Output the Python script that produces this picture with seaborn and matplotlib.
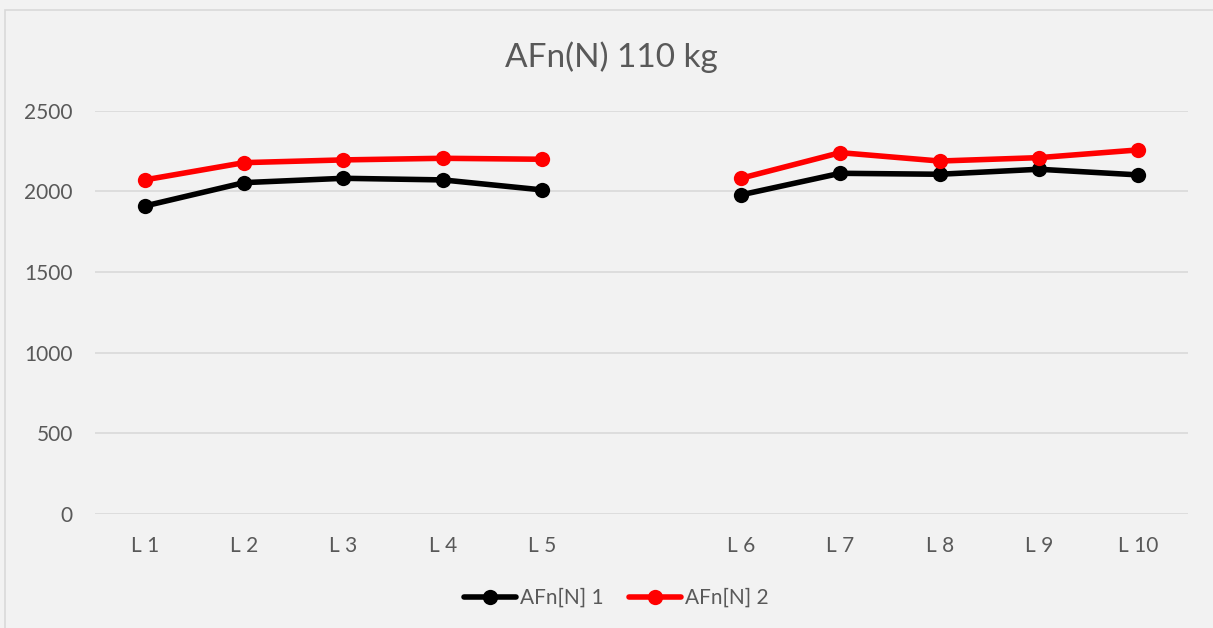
import matplotlib
matplotlib.use("Agg")
import matplotlib.pyplot as plt
from matplotlib.patches import Rectangle
import numpy as np
import pandas as pd
import seaborn as sns

# Category labels; the empty slot separates the two measurement groups
categories = ["L 1", "L 2", "L 3", "L 4", "L 5", "", "L 6", "L 7", "L 8", "L 9", "L 10"]
afn_1 = [1909, 2054, 2081, 2071, 2009, np.nan, 1978, 2112, 2106, 2137, 2102]
afn_2 = [2071, 2178, 2195, 2205, 2199, np.nan, 2081, 2240, 2188, 2209, 2257]
series_names = ["AFn[N] 1", "AFn[N] 2"]
colors = ["#000000", "#FF0000"]

rows = []
for name, vals in zip(series_names, [afn_1, afn_2]):
    for pos, (cat, v) in enumerate(zip(categories, vals)):
        if np.isnan(v):
            continue
        rows.append({"pos": pos, "value": v, "series": name,
                     "segment": 0 if pos < 5 else 1})
df = pd.DataFrame(rows)

sns.set_theme(style="white")
plt.rcParams["font.family"] = ["Lato", "DejaVu Sans"]

W, H = 1213, 628
fig = plt.figure(figsize=(W / 100, H / 100), dpi=100, facecolor="#F2F2F2")
fig.patches.append(Rectangle((5 / W, -0.01), 1.2, 1 - 10 / H + 0.01,
                             transform=fig.transFigure, facecolor="none",
                             edgecolor="#D9D9D9", linewidth=1.2, zorder=0))

ax = fig.add_axes([95 / W, 1 - 514 / H, (1188 - 95) / W, (514 - 110.7) / H])
ax.set_facecolor("#F2F2F2")

sns.lineplot(data=df, x="pos", y="value", hue="series", units="segment",
             estimator=None, palette=colors, hue_order=series_names,
             marker="o", markersize=11, markeredgewidth=0, linewidth=4,
             ax=ax)

ax.set_xlim(-0.5, len(categories) - 0.5)
ax.set_ylim(0, 2500)
ax.set_yticks(range(0, 2501, 500))
ax.set_xticks(range(len(categories)))
ax.set_xticklabels(categories)
ax.yaxis.grid(True, color="#D9D9D9", linewidth=1.2)
ax.xaxis.grid(False)
for s in ax.spines.values():
    s.set_visible(False)
ax.tick_params(axis="both", length=0, labelsize=15, colors="#595959")
ax.tick_params(axis="y", pad=16)
ax.tick_params(axis="x", pad=16)
ax.set_xlabel("")
ax.set_ylabel("")

fig.text(611 / W, 1 - 57 / H, "AFn(N) 110 kg", ha="center", va="center",
         fontsize=24, color="#595959")

leg = ax.legend(loc="center",
                bbox_to_anchor=((616 - 95) / (1188 - 95), (514 - 598) / (514 - 110.7)),
                ncol=2, frameon=False, fontsize=15, handlelength=2.5,
                columnspacing=1.2, handletextpad=0.2)
for t in leg.get_texts():
    t.set_color("#595959")
for h in leg.legend_handles:
    h.set_linewidth(4)
    h.set_markersize(11)

fig.savefig("out.png", dpi=100, facecolor=fig.get_facecolor())
